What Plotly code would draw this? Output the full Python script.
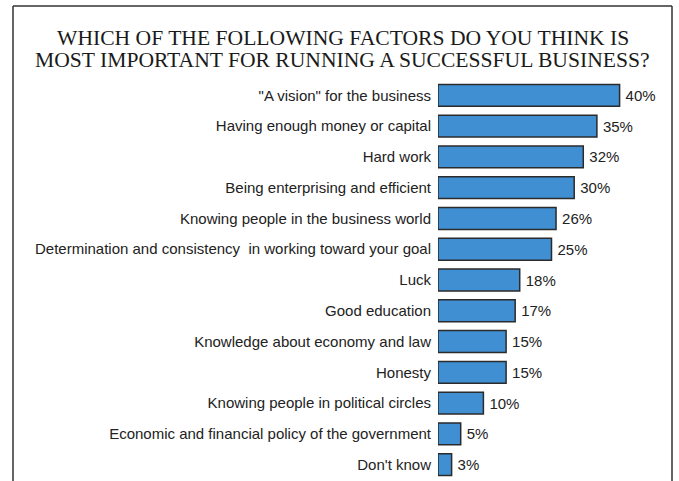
import plotly.graph_objects as go

# Survey answers, in display order (top to bottom)
factors = [
    "\"A vision\" for the business",
    "Having enough money or capital",
    "Hard work",
    "Being enterprising and efficient",
    "Knowing people in the business world",
    "Determination and consistency\u00a0\u00a0in working toward your goal",
    "Luck",
    "Good education",
    "Knowledge about economy and law",
    "Honesty",
    "Knowing people in political circles",
    "Economic and financial policy of the government",
    "Don't know",
]
shares = [40, 35, 32, 30, 26, 25, 18, 17, 15, 15, 10, 5, 3]

title_lines = [
    "WHICH OF THE FOLLOWING FACTORS DO YOU THINK IS",
    "MOST IMPORTANT FOR RUNNING A SUCCESSFUL BUSINESS?",
]

W, H = 679, 481
ML, MR, MT, MB = 438, 14, 80, 1

fig = go.Figure(
    go.Bar(
        x=shares,
        y=factors,
        orientation="h",
        marker=dict(color="#3f8fd2", line=dict(color="#2b2b2b", width=1.5)),
        texttemplate="\u2009%{x}%",
        textposition="outside",
        textfont=dict(family="Liberation Sans, Arial", size=15, color="#222222"),
        cliponaxis=False,
        hoverinfo="skip",
    )
)


def px_x(p):
    return (p - ML) / (W - ML - MR)


def px_y(p):
    return 1 - (p - MT) / (H - MT - MB)


# Frame around the figure: left, top and right edges
frame = dict(color="#333333", width=1.5)
for x0, y0, x1, y1 in [(13, 6, 13, H + 2), (13, 6, 672, 6), (672, 6, 672, H + 2)]:
    fig.add_shape(
        type="line", xref="paper", yref="paper",
        x0=px_x(x0), y0=px_y(y0), x1=px_x(x1), y1=px_y(y1),
        line=frame,
    )

for i, line in enumerate(title_lines):
    fig.add_annotation(
        text=line, xref="paper", yref="paper",
        x=px_x(342.5), y=px_y(38 + 22 * i),
        xanchor="center", yanchor="middle", showarrow=False,
        font=dict(family="Liberation Serif, Times New Roman", size=21.6, color="#1a1a1a"),
    )

fig.update_layout(
    width=W, height=H,
    margin=dict(l=ML, r=MR, t=MT, b=MB, pad=0),
    paper_bgcolor="white", plot_bgcolor="white",
    showlegend=False,
    bargap=0.29,
    xaxis=dict(range=[0, 50], visible=False, fixedrange=True),
    yaxis=dict(
        autorange="reversed",
        showgrid=False, zeroline=False, showline=False,
        ticks="outside", ticklen=3, tickcolor="rgba(0,0,0,0)",
        tickfont=dict(family="Liberation Sans, Arial", size=15, color="#222222"),
        fixedrange=True,
    ),
)

fig.write_html("out.html", config={"displayModeBar": False})
